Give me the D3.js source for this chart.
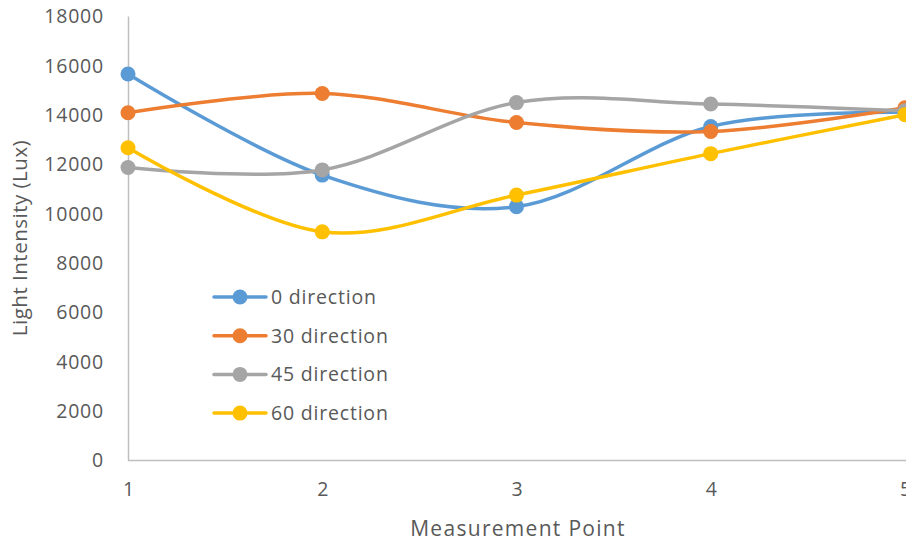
<!DOCTYPE html>
<html>
<head>
<meta charset="utf-8">
<script src="https://cdn.jsdelivr.net/npm/d3@7"></script>
<style>
  html, body { margin: 0; padding: 0; background: #fff; overflow: hidden; }
  svg { display: block; }
  text { font-family: "Open Sans", "Liberation Sans", sans-serif; fill: #595959; }
</style>
</head>
<body>
<svg id="chart" width="906" height="544"></svg>
<script>
// Measurement points along the x axis
const points = [1, 2, 3, 4, 5];
// Light intensity (Lux) for each lamp direction
const dir0  = [15650, 11550, 10270, 13520, 14100];
const dir30 = [14080, 14860, 13680, 13320, 14280];
const dir45 = [11860, 11760, 14490, 14430, 14160];
const dir60 = [12660, 9250, 10740, 12420, 14000];
const seriesNames = ["0 direction", "30 direction", "45 direction", "60 direction"];
const seriesColors = ["#5B9BD5", "#ED7D31", "#A5A5A5", "#FFC000"];
const yTicks = [0, 2000, 4000, 6000, 8000, 10000, 12000, 14000, 16000, 18000];

const series = [dir0, dir30, dir45, dir60].map((vals, i) => ({
  name: seriesNames[i], color: seriesColors[i],
  values: vals.map((v, j) => ({ x: points[j], y: v }))
}));

const svg = d3.select("#chart");
const plotLeft = 128, plotRight = 905, plotTop = 16, plotBottom = 460;

const x = d3.scaleLinear().domain([1, 5]).range([plotLeft, plotRight]);
const y = d3.scaleLinear().domain([0, 18000]).range([plotBottom, plotTop]);

// Axes (no tick marks, light grey baseline)
const yAxis = svg.append("g").attr("transform", `translate(${plotLeft},0)`)
  .call(d3.axisLeft(y).tickValues(yTicks).tickSize(0).tickPadding(24).tickFormat(d3.format("d")));
yAxis.select(".domain").attr("stroke", "#bfbfbf").attr("stroke-width", 1.5);
yAxis.selectAll("text").style("font-size", "19.5px").style("letter-spacing", "0.8px")
  .attr("fill", "#595959").attr("dy", "0.35em")
  .attr("font-family", '"Open Sans", sans-serif');

const xAxis = svg.append("g").attr("transform", `translate(0,${plotBottom})`)
  .call(d3.axisBottom(x).tickValues(points).tickSize(0).tickPadding(22).tickFormat(d3.format("d")));
xAxis.select(".domain").attr("stroke", "#bfbfbf").attr("stroke-width", 1.5)
  .attr("d", `M${plotLeft},0.5H906`);
xAxis.selectAll("text").style("font-size", "19.5px").attr("fill", "#595959")
  .attr("font-family", '"Open Sans", sans-serif');

// Axis titles
svg.append("text").attr("x", 518).attr("y", 536).attr("text-anchor", "middle")
  .style("font-size", "21px").style("letter-spacing", "1.3px").text("Measurement Point");
svg.append("text").attr("transform", `translate(27,${(plotTop + plotBottom) / 2}) rotate(-90)`)
  .attr("text-anchor", "middle").style("font-size", "20.5px").style("letter-spacing", "0.5px")
  .text("Light Intensity (Lux)");

// Smoothed series lines with circular markers
const line = d3.line().x(d => x(d.x)).y(d => y(d.y)).curve(d3.curveCatmullRom.alpha(0));
series.forEach(s => {
  const g = svg.append("g");
  g.append("path").datum(s.values).attr("d", line)
    .attr("fill", "none").attr("stroke", s.color).attr("stroke-width", 3.5)
    .attr("stroke-linecap", "round");
  g.selectAll("circle").data(s.values).join("circle")
    .attr("cx", d => x(d.x)).attr("cy", d => y(d.y)).attr("r", 7.5)
    .attr("fill", s.color);
});

// Legend
const legend = svg.append("g");
series.forEach((s, i) => {
  const ly = 297 + i * 38.7;
  legend.append("line").attr("x1", 214).attr("x2", 266).attr("y1", ly).attr("y2", ly)
    .attr("stroke", s.color).attr("stroke-width", 3.5).attr("stroke-linecap", "round");
  legend.append("circle").attr("cx", 240).attr("cy", ly).attr("r", 7.5).attr("fill", s.color);
  legend.append("text").attr("x", 271).attr("y", ly).attr("dy", "0.35em")
    .style("font-size", "19.5px").style("letter-spacing", "0.8px").text(s.name);
});
</script>
</body>
</html>
